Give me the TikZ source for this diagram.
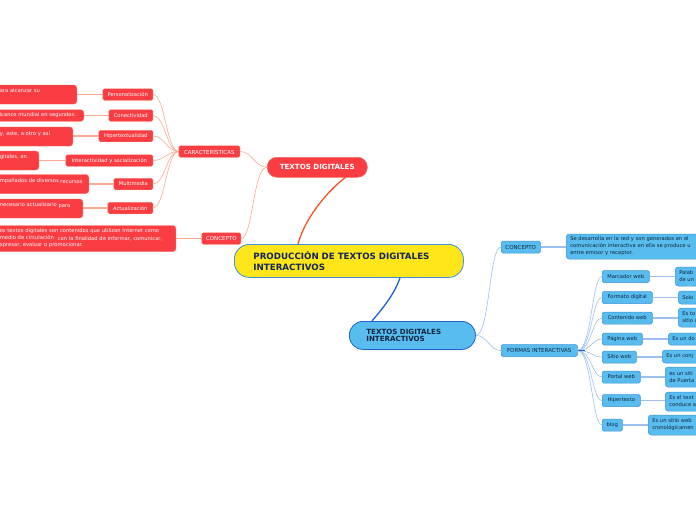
\documentclass[tikz,border=0pt]{standalone}
\usepackage{fontspec}
\setmainfont{DejaVu Sans}
\definecolor{redf}{HTML}{FA3D42}
\definecolor{redd}{HTML}{F56B5C}
\definecolor{salm}{HTML}{F8AB92}
\definecolor{orl}{HTML}{EF5526}
\definecolor{yel}{HTML}{FEE61A}
\definecolor{navy}{HTML}{13265A}
\definecolor{bluef}{HTML}{58BDEE}
\definecolor{blueb}{HTML}{3B91DC}
\definecolor{blued}{HTML}{1C63D0}
\definecolor{bluel}{HTML}{9DBFF0}
\definecolor{txtd}{HTML}{0F2440}
\begin{document}
\begin{tikzpicture}[x=1pt,y=-1pt,
  f52/.style={font=\fontsize{5.2}{7}\selectfont},
  rsub/.style={draw=redd, fill=redf, line width=0.4pt, rounded corners=1.5pt, text=white, f52, inner sep=0pt, anchor=east, minimum height=11.5},
  rcap/.style={rsub, font=\fontsize{5.5}{7}\selectfont},
  rtext/.style={draw=redd, fill=redf, line width=0.4pt, rounded corners=3pt, text=white, f52, inner xsep=3pt, inner ysep=0pt, align=left, anchor=east},
  bsub/.style={draw=blueb, fill=bluef, line width=0.5pt, rounded corners=1.5pt, text=txtd, f52, inner sep=0pt, anchor=west, minimum height=12},
  bcap/.style={bsub, font=\fontsize{5.5}{7}\selectfont},
  btext/.style={draw=blueb, fill=bluef, line width=0.5pt, rounded corners=3pt, text=txtd, f52, inner xsep=4pt, inner ysep=0pt, align=left, anchor=west, text width=90},
  rline/.style={draw=salm, line width=0.6pt},
  rbar/.style={draw=salm, line width=1.1pt},
  bline/.style={draw=bluel, line width=0.6pt},
  bbar/.style={draw=bluel, line width=1.1pt},
]
\useasboundingbox (0,0) rectangle (696,520);
\fill[white] (0,0) rectangle (696,520);

% ---------- main nodes ----------
\node[draw=blueb, line width=0.8pt, fill=yel, rounded corners=15pt, minimum height=33, inner xsep=19pt, inner ysep=0pt, text width=191, align=left, anchor=north west, text=navy, font=\bfseries\fontsize{8.7}{10.4}\selectfont] (main) at (234,244) {PRODUCCIÓN DE TEXTOS DIGITALES\\INTERACTIVOS};

\node[draw=redd, line width=0.5pt, fill=redf, rounded corners=9.5pt, minimum width=100, minimum height=20, inner sep=0pt, anchor=north west, text=white, font=\bfseries\fontsize{7.1}{8}\selectfont] (td) at (267,157) {TEXTOS DIGITALES};

\node[draw=blued, line width=0.8pt, fill=bluef, rounded corners=13.5pt, minimum height=28, inner xsep=17pt, inner ysep=0pt, text width=92, align=left, anchor=north west, text=txtd, font=\bfseries\fontsize{7.1}{7.6}\selectfont] (tdi) at (349,321) {TEXTOS DIGITALES\\INTERACTIVOS};

\draw[orl, line width=1.3pt] ([xshift=64]main.north west) .. controls +(8,-29) and +(-15,11) .. ([xshift=-22]td.south east);
\draw[blued, line width=1.3pt] ([xshift=166]main.south west) .. controls +(-5,15) and +(12,-14) .. ([xshift=23]tdi.north west);

% ---------- left (red) branch ----------
\node[rcap, minimum width=61] (car) at (240,151.5) {CARACTERÍSTICAS};
\node[rcap, minimum width=39] (conl) at (241,238.5) {CONCEPTO};

\node[rsub, minimum width=50] (pers) at (153,94.5) {Personalización};
\node[rsub, minimum width=44] (cone) at (153,115.5) {Conectividad};
\node[rsub, minimum width=54] (hip) at (153,136) {Hipertextualidad};
\node[rsub, minimum width=87] (inte) at (153,160.5) {Interactividad y socialización};
\node[rsub, minimum width=39] (mult) at (153,184) {Multimedia};
\node[rsub, minimum width=45] (actu) at (153,208) {Actualización};

\node[rtext, text width=74, minimum height=19] (tpers) at (77,94.5) {\mbox{ara alcanzar su}\\\mbox{}};
\node[rtext, text width=81, minimum height=11.5] (tcone) at (84,115.5) {\mbox{lcance mundial en segundos.}};
\node[rtext, text width=70, minimum height=19] (thip) at (73,136.5) {\mbox{y, este, a otro y así}\\\mbox{}};
\node[rtext, text width=36, minimum height=19] (tinte) at (39,160.5) {\mbox{gitales, en}\\\mbox{}};
\node[rtext, text width=86, minimum height=19] (tmult) at (89,184) {\mbox{mpañados de diversos \raisebox{-0.6pt}{recursos}}\\\mbox{}};
\node[rtext, text width=80, minimum height=19] (tactu) at (83,208.5) {\mbox{necesario actualizarlo \raisebox{-0.6pt}{para}}\\\mbox{}};
\node[rtext, text width=173, minimum height=26] (tconl) at (176,238.5) {\mbox{os textos digitales son contenidos que utilizan Internet como}\\\mbox{medio de circulación\hspace{4pt}\raisebox{-0.5pt}{con la finalidad de informar, comunicar,}}\\\mbox{xpresar, evaluar o promocionar.}};

\draw[rline] (td.west) .. controls +(-12,0) and +(12,0) .. (car.east);
\draw[rline] (td.west) .. controls +(-14,0) and +(12,0) .. (conl.east);
\foreach \n in {pers,cone,hip,inte,mult,actu}
  \draw[rline] (car.west) .. controls +(-12,0) and +(12,0) .. (\n.east);
\draw[rbar] (pers.west) -- (tpers.east |- pers.west);
\draw[rbar] (cone.west) -- (tcone.east);
\draw[rbar] (hip.west) -- (thip.east |- hip.west);
\draw[rbar] (inte.west) -- (tinte.east);
\draw[rbar] (mult.west) -- (tmult.east);
\draw[rbar] (actu.west) -- (tactu.east |- actu.west);
\draw[rbar] (conl.west) -- (tconl.east);

% ---------- right (blue) branch ----------
\node[bcap, minimum width=39] (conr) at (501,247) {CONCEPTO};
\node[bcap, minimum width=76] (fi) at (501,350.5) {FORMAS INTERACTIVAS};

\node[btext, minimum height=25, text width=140] (tconr) at (566,246.5) {\mbox{Se desarrolla en la red y son generados en el}\\\mbox{comunicación interactiva en ella se produce u}\\\mbox{entre emisor y receptor.}};

\node[bsub, minimum width=47] (mar) at (602,276.5) {Marcador web};
\node[bsub, minimum width=50] (form) at (602,297.5) {Formato digital};
\node[bsub, minimum width=50] (cont) at (602,318) {Contenido web};
\node[bsub, minimum width=40] (pag) at (602,339) {Página web};
\node[bsub, minimum width=34] (sit) at (602,357) {Sitio web};
\node[bsub, minimum width=38] (por) at (602,377) {Portal web};
\node[bsub, minimum width=38] (hipx) at (602,400.5) {Hipertexto};
\node[bsub, minimum width=20] (blog) at (602,425) {blog};

\node[btext, minimum height=19] (tmar) at (675,276.5) {\mbox{Palab}\\\mbox{de un}};
\node[btext, minimum height=13] (tform) at (678,297.5) {\mbox{Solo}};
\node[btext, minimum height=19] (tcont) at (678,317.5) {\mbox{Es to}\\\mbox{sitio w}};
\node[btext, minimum height=12] (tpag) at (668,339) {\mbox{Es un do}};
\node[btext, minimum height=13] (tsit) at (662,356.5) {\mbox{Es un conj}};
\node[btext, minimum height=20] (tpor) at (665,377) {\mbox{es un siti}\\\mbox{de Puerta}};
\node[btext, minimum height=19] (thipx) at (665,401.5) {\mbox{Es el text}\\\mbox{conduce a}};
\node[btext, minimum height=20] (tblog) at (648,425) {\mbox{Es un sitio web}\\\mbox{cronológicamen}};

\draw[bline] (tdi.east) .. controls +(14,0) and +(-12,0) .. (conr.west);
\draw[bline] (tdi.east) .. controls +(12,0) and +(-12,0) .. (fi.west);
\draw[bbar] (conr.east) -- (tconr.west |- conr.east);

\coordinate (fih) at ([xshift=7]fi.east);
\foreach \n in {mar,form,cont,pag,sit,por,hipx,blog}
  \draw[bline] (fi.east) .. controls +(14,0) and +(-10,0) .. (\n.west);
\draw[blued, line width=1.5pt] (fi.east) -- (fih);

\draw[bbar] (mar.east) -- (tmar.west |- mar.east);
\draw[bbar] (form.east) -- (tform.west |- form.east);
\draw[bbar] (cont.east) -- (tcont.west |- cont.east);
\draw[bbar] (pag.east) -- (tpag.west |- pag.east);
\draw[bbar] (sit.east) -- (tsit.west |- sit.east);
\draw[bbar] (por.east) -- (tpor.west |- por.east);
\draw[bbar] (hipx.east) -- (thipx.west |- hipx.east);
\draw[bbar] (blog.east) -- (tblog.west |- blog.east);
\end{tikzpicture}
\end{document}
